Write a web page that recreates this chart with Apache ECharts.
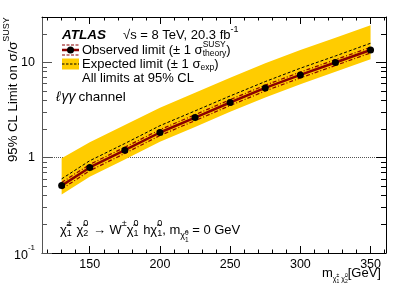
<!DOCTYPE html>
<html><head><meta charset="utf-8">
<script src="https://cdn.jsdelivr.net/npm/echarts@6/dist/echarts.min.js"></script>
<style>html,body{margin:0;padding:0;background:#fff}#c{width:407px;height:292px}</style>
</head><body><div id="c"></div>
<script>
// ---- data ----
const masses = [130, 150, 175, 200, 225, 250, 275, 300, 325, 350];
const observed = [0.51, 0.79, 1.2, 1.84, 2.64, 3.8, 5.4, 7.4, 10.0, 13.5];
const obsTheoryUp = [0.55, 0.85, 1.29, 1.97, 2.83, 4.07, 5.78, 7.92, 10.7, 14.4];
const obsTheoryDown = [0.47, 0.73, 1.11, 1.71, 2.45, 3.53, 5.02, 6.88, 9.3, 12.6];
const expected = [0.60, 0.93, 1.41, 2.17, 3.1, 4.45, 6.3, 8.7, 11.7, 15.9];
const expUp = [0.99, 1.45, 2.2, 3.35, 4.8, 6.9, 9.8, 13.5, 18.2, 24.6];
const expDown = [0.41, 0.63, 0.96, 1.47, 2.1, 3.04, 4.3, 5.9, 8.0, 10.8];
const xMajorTicks = [150, 200, 250, 300, 350];
const xMinorTicks = [120, 130, 140, 160, 170, 180, 190, 210, 220, 230, 240, 260, 270, 280, 290, 310, 320, 330, 340, 360];
const yMajorTicks = [0.1, 1, 10];
const yMinorTicks = [0.2, 0.3, 0.4, 0.5, 0.6, 0.7, 0.8, 0.9, 2, 3, 4, 5, 6, 7, 8, 9, 20];

const FONT = '"Liberation Sans", Arial, sans-serif';
const chi = '\u03C7\u0303';
const ctx = document.createElement('canvas').getContext('2d');
function tw(t, s, st) { ctx.font = (st || '') + ' ' + s + 'px ' + FONT; return ctx.measureText(t).width; }
function txt(t, x, y, s, st) {
  return {type: 'text', x: x, y: y, silent: true,
    style: {text: t, font: (st || '') + ' ' + s + 'px ' + FONT, fill: '#000', align: 'left', verticalAlign: 'middle'}};
}
// parts: {t,s,dy,st} or {sup,sub,s,su,sd}
function run(parts, x0, y0) {
  const els = []; let x = x0;
  parts.forEach(p => {
    if (p.t !== undefined) {
      els.push(txt(p.t, x, y0 + (p.dy || 0), p.s, p.st));
      x += tw(p.t, p.s, p.st) + (p.gap || 0);
    } else {
      let w = 0;
      if (p.sup) { els.push(txt(p.sup, x, y0 + p.su, p.s)); w = Math.max(w, tw(p.sup, p.s)); }
      if (p.sub) { els.push(txt(p.sub, x, y0 + p.sd, p.s)); w = Math.max(w, tw(p.sub, p.s)); }
      x += w + (p.gap || 0);
    }
  });
  return els;
}

const xCommon = {type: 'value', min: 116, max: 361, splitLine: {show: false}};
const tickLine = {color: '#000', width: 1};
const xAxes = [
  Object.assign({}, xCommon, {position: 'bottom', axisLine: {show: true, onZero: false, lineStyle: tickLine},
    axisTick: {inside: true, length: 7, customValues: xMajorTicks, lineStyle: tickLine},
    axisLabel: {customValues: xMajorTicks, fontSize: 12.5, color: '#000', fontFamily: FONT, margin: 5}}),
  Object.assign({}, xCommon, {position: 'bottom', axisLine: {show: false, onZero: false},
    axisTick: {inside: true, length: 3.5, customValues: xMinorTicks, lineStyle: tickLine}, axisLabel: {show: false}}),
  Object.assign({}, xCommon, {position: 'top', axisLine: {show: true, onZero: false, lineStyle: tickLine},
    axisTick: {inside: true, length: 7, customValues: xMajorTicks, lineStyle: tickLine}, axisLabel: {show: false}}),
  Object.assign({}, xCommon, {position: 'top', axisLine: {show: false, onZero: false},
    axisTick: {inside: true, length: 3.5, customValues: xMinorTicks, lineStyle: tickLine}, axisLabel: {show: false}})
];
const yCommon = {type: 'log', logBase: 10, min: 0.1, max: 30, splitLine: {show: false}};
const yAxes = [
  Object.assign({}, yCommon, {position: 'left', axisLine: {show: true, onZero: false, lineStyle: {color: '#555', width: 1}},
    axisTick: {inside: true, length: 10, customValues: yMajorTicks, lineStyle: {color: '#555', width: 1}},
    axisLabel: {customValues: yMajorTicks, fontSize: 12.5, color: '#000', fontFamily: FONT, margin: 7,
      formatter: v => Math.abs(v - 0.1) < 1e-6 ? '{b|10}{s|-1}' : (Math.abs(v - 1) < 1e-6 ? '1' : '10'),
      rich: {b: {fontSize: 12.5, fontFamily: FONT, color: '#000', lineHeight: 18, verticalAlign: 'bottom'},
             s: {fontSize: 8, fontFamily: FONT, color: '#000', lineHeight: 18, verticalAlign: 'top'}}}}),
  Object.assign({}, yCommon, {position: 'left', axisLine: {show: false, onZero: false},
    axisTick: {inside: true, length: 5, customValues: yMinorTicks, lineStyle: {color: '#555', width: 1}}, axisLabel: {show: false}}),
  Object.assign({}, yCommon, {position: 'right', axisLine: {show: true, onZero: false, lineStyle: tickLine},
    axisTick: {inside: true, length: 10, customValues: yMajorTicks, lineStyle: tickLine}, axisLabel: {show: false}}),
  Object.assign({}, yCommon, {position: 'right', axisLine: {show: false, onZero: false},
    axisTick: {inside: true, length: 5, customValues: yMinorTicks, lineStyle: tickLine}, axisLabel: {show: false}})
];

const pair = (ys) => masses.map((m, i) => [m, ys[i]]);

const series = [
  {type: 'custom', z: 1, silent: true, clip: true, xAxisIndex: 0, yAxisIndex: 0,
   data: masses.map((m, i) => [m, expDown[i], expUp[i]]),
   encode: {x: 0, y: [1, 2]},
   renderItem: (params, api) => {
     if (params.dataIndexInside !== 0) return null;
     const pts = [];
     for (let i = 0; i < masses.length; i++) pts.push(api.coord([masses[i], expUp[i]]));
     for (let i = masses.length - 1; i >= 0; i--) pts.push(api.coord([masses[i], expDown[i]]));
     return {type: 'polygon', shape: {points: pts}, style: {fill: '#ffcc00', stroke: null}};
   },
   markLine: {z: 0, silent: true, symbol: ['none', 'none'], label: {show: false},
     lineStyle: {type: [1, 1], color: '#555', width: 1}, data: [{yAxis: 1}]}
  },
  {type: 'line', z: 3, data: pair(expected), symbol: 'none', silent: true,
   lineStyle: {color: '#000', width: 1, type: [3, 2]}},
  {type: 'line', z: 3, data: pair(obsTheoryUp), symbol: 'none', silent: true,
   lineStyle: {color: '#8b0000', width: 1.2, type: [4, 2, 1, 2]}},
  {type: 'line', z: 3, data: pair(obsTheoryDown), symbol: 'none', silent: true,
   lineStyle: {color: '#8b0000', width: 1.2, type: [4, 2, 1, 2]}},
  {type: 'line', z: 4, data: pair(observed), symbol: 'circle', symbolSize: 7, showAllSymbol: true, silent: true,
   lineStyle: {color: '#8b0000', width: 2.5}, itemStyle: {color: '#000'}}
];

// ---- texts ----
const S = 13, s = 9;
let g = [];
g.push(txt('ATLAS', 62, 35, 13.5, 'italic bold'));
g = g.concat(run([{t: '\u221As = 8 TeV, 20.3 fb', s: S}, {t: '-1', s: s, dy: -5}], 123, 35));
// legend icons
g.push({type: 'line', silent: true, shape: {x1: 62, y1: 45, x2: 79, y2: 45}, style: {stroke: '#8b0000', lineWidth: 1.2, lineDash: [3, 1.5]}});
g.push({type: 'line', silent: true, shape: {x1: 62, y1: 55, x2: 79, y2: 55}, style: {stroke: '#8b0000', lineWidth: 1.2, lineDash: [3, 1.5]}});
g.push({type: 'line', silent: true, shape: {x1: 62, y1: 50, x2: 79, y2: 50}, style: {stroke: '#8b0000', lineWidth: 2.5}});
g.push({type: 'circle', silent: true, shape: {cx: 70.5, cy: 50, r: 3.5}, style: {fill: '#000'}});
g.push({type: 'rect', silent: true, shape: {x: 62, y: 58.5, width: 17, height: 11}, style: {fill: '#ffcc00'}});
g.push({type: 'line', silent: true, shape: {x1: 62, y1: 64, x2: 79, y2: 64}, style: {stroke: '#000', lineWidth: 1, lineDash: [2.5, 1.5]}});
g = g.concat(run([{t: 'Observed limit (\u00B1 1 \u03C3', s: S}, {sup: 'SUSY', sub: 'theory', s: 8.5, su: -5, sd: 4}, {t: ')', s: S}], 82, 50));
g = g.concat(run([{t: 'Expected limit (\u00B1 1 \u03C3', s: S}, {t: 'exp', s: 8.5, dy: 4}, {t: ')', s: S}], 82, 64));
g.push(txt('All limits at 95% CL', 82, 78, S));
g = g.concat(run([{t: '\u2113', s: 14, st: 'italic', gap: 1}, {t: '\u03B3\u03B3', s: 14, st: 'italic', gap: 3}, {t: 'channel', s: 13.5}], 56, 97));
// decay formula
g = g.concat(run([
  {t: chi, s: S}, {sup: '\u00B1', sub: '1', s: s, su: -6, sd: 4, gap: 1}, {t: ' ', s: S},
  {t: chi, s: S}, {sup: '0', sub: '2', s: s, su: -6, sd: 4, gap: 1}, {t: ' \u2192 W', s: S},
  {t: '\u00B1', s: s, dy: -6}, {t: chi, s: S}, {sup: '0', sub: '1', s: s, su: -6, sd: 4, gap: 1},
  {t: ' h', s: S}, {t: chi, s: S}, {sup: '0', sub: '1', s: s, su: -6, sd: 4},
  {t: ', m', s: S}, {t: chi, s: s, dy: 6}, {sup: '0', sub: '1', s: 6.5, su: 3, sd: 10},
  {t: ' = 0 GeV', s: S}
], 60, 230));
// x title
g = g.concat(run([
  {t: 'm', s: 13}, {t: chi, s: 7, dy: 6}, {sup: '\u00B1', sub: '1', s: 5, su: 3, sd: 9},
  {t: ' ', s: 7}, {t: chi, s: 7, dy: 6}, {sup: '0', sub: '2', s: 5, su: 3, sd: 9},
  {t: '[GeV]', s: 13}
], 322, 273));
// y title (rotated)
g.push({type: 'group', x: 13, y: 162, rotation: Math.PI / 2, silent: true,
  children: run([{t: '95% CL Limit on \u03C3/\u03C3', s: 13.2}, {t: 'SUSY', s: 9, dy: -6}], 0, 0)});

const chart = echarts.init(document.getElementById('c'), null, {renderer: 'canvas'});
chart.setOption({
  animation: false,
  backgroundColor: '#fff',
  grid: {left: 42, right: 21, top: 17, bottom: 39, containLabel: false},
  xAxis: xAxes, yAxis: yAxes, series: series, graphic: g
});
</script></body></html>
